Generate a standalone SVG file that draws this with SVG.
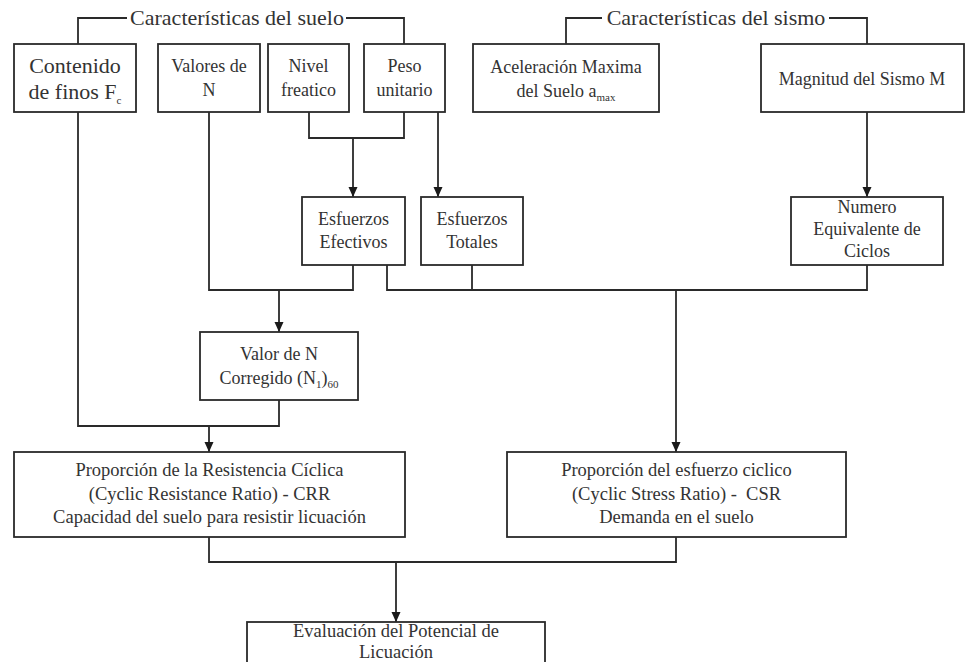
<svg xmlns="http://www.w3.org/2000/svg" width="965" height="662" viewBox="0 0 965 662">
<style>
.box{fill:#fff;stroke:#2a2a2a;stroke-width:1.8}
.ln{fill:none;stroke:#2a2a2a;stroke-width:1.8}
text{font-family:"Liberation Serif","Times New Roman",serif;fill:#333;text-anchor:middle}
.t18{font-size:18px}
.t19{font-size:18.5px}
.t22{font-size:22px}
.sub{font-size:11px}
</style>
<defs>
<marker id="arr" markerUnits="userSpaceOnUse" markerWidth="12" markerHeight="12" viewBox="0 0 12 12" refX="11" refY="6" orient="auto">
<path d="M1,1.5 L11,6 L1,10.5 Z" fill="#1a1a1a"/>
</marker>
</defs>
<rect width="965" height="662" fill="#fff"/>
<g id="connectors">
<path class="ln" d="M78,44 V18 H127 M346,18 H404 V44"/>
<path class="ln" d="M566,44 V18 H602 M829,18 H867 V44"/>
<path class="ln" d="M78,112 V426 H279 V400"/>
<path class="ln" d="M209,426 V452" marker-end="url(#arr)"/>
<path class="ln" d="M209,112 V290 H353 V265"/>
<path class="ln" d="M279,290 V332" marker-end="url(#arr)"/>
<path class="ln" d="M309,112 V138 H404 V112"/>
<path class="ln" d="M353,138 V197" marker-end="url(#arr)"/>
<path class="ln" d="M438,112 V197" marker-end="url(#arr)"/>
<path class="ln" d="M867,112 V197" marker-end="url(#arr)"/>
<path class="ln" d="M387,265 V290 H867 V265 M472,265 V290"/>
<path class="ln" d="M676,290 V452" marker-end="url(#arr)"/>
<path class="ln" d="M209,537 V562 H676 V537"/>
<path class="ln" d="M396,562 V622" marker-end="url(#arr)"/>
</g>
<g id="header-suelo"><text class="t22" x="237" y="25">Características del suelo</text></g>
<g id="header-sismo"><text class="t22" x="716" y="25">Características del sismo</text></g>
<g id="contenido">
<rect class="box" x="14" y="44" width="122" height="68"/>
<text class="t22" x="75" y="73">Contenido</text>
<text class="t22" x="75" y="99">de finos F<tspan class="sub" dy="5">c</tspan></text>
</g>
<g id="valores">
<rect class="box" x="158" y="44" width="102" height="68"/>
<text class="t18" x="209" y="72">Valores de</text>
<text class="t18" x="209" y="96">N</text>
</g>
<g id="nivel">
<rect class="box" x="268" y="44" width="81" height="68"/>
<text class="t18" x="308.5" y="72">Nivel</text>
<text class="t18" x="308.5" y="96">freatico</text>
</g>
<g id="peso">
<rect class="box" x="364" y="44" width="81" height="68"/>
<text class="t18" x="404.5" y="72">Peso</text>
<text class="t18" x="404.5" y="96">unitario</text>
</g>
<g id="aceleracion">
<rect class="box" x="473" y="44" width="186" height="68"/>
<text class="t18" x="566" y="73">Aceleración Maxima</text>
<text class="t18" x="566" y="97">del Suelo a<tspan class="sub" dy="4">max</tspan></text>
</g>
<g id="magnitud">
<rect class="box" x="761" y="44" width="203" height="68"/>
<text class="t18" x="862" y="85">Magnitud del Sismo M</text>
</g>
<g id="efectivos">
<rect class="box" x="302" y="197" width="103" height="68"/>
<text class="t18" x="353.5" y="225">Esfuerzos</text>
<text class="t18" x="353.5" y="248">Efectivos</text>
</g>
<g id="totales">
<rect class="box" x="421" y="197" width="102" height="68"/>
<text class="t18" x="472" y="225">Esfuerzos</text>
<text class="t18" x="472" y="248">Totales</text>
</g>
<g id="numero">
<rect class="box" x="791" y="197" width="152" height="68"/>
<text class="t18" x="867" y="213">Numero</text>
<text class="t18" x="867" y="235">Equivalente de</text>
<text class="t18" x="867" y="257">Ciclos</text>
</g>
<g id="valorN">
<rect class="box" x="200" y="332" width="158" height="68"/>
<text class="t18" x="279" y="360">Valor de N</text>
<text class="t18" x="279" y="384">Corregido (N<tspan class="sub" dy="4">1</tspan><tspan dy="-4">)</tspan><tspan class="sub" dy="4">60</tspan></text>
</g>
<g id="crr">
<rect class="box" x="14" y="452" width="391" height="85"/>
<text class="t19" x="209.5" y="476">Proporción de la Resistencia Cíclica</text>
<text class="t19" x="209.5" y="500">(Cyclic Resistance Ratio) - CRR</text>
<text class="t19" x="209.5" y="523">Capacidad del suelo para resistir licuación</text>
</g>
<g id="csr">
<rect class="box" x="507" y="452" width="339" height="85"/>
<text class="t19" x="676.5" y="476">Proporción del esfuerzo ciclico</text>
<text class="t19" x="676.5" y="500" xml:space="preserve">(Cyclic Stress Ratio) -  CSR</text>
<text class="t19" x="676.5" y="523">Demanda en el suelo</text>
</g>
<g id="evaluacion">
<rect class="box" x="247" y="622" width="298" height="60"/>
<text class="t19" x="396" y="637">Evaluación del Potencial de</text>
<text class="t19" x="396" y="658">Licuación</text>
</g>
</svg>
